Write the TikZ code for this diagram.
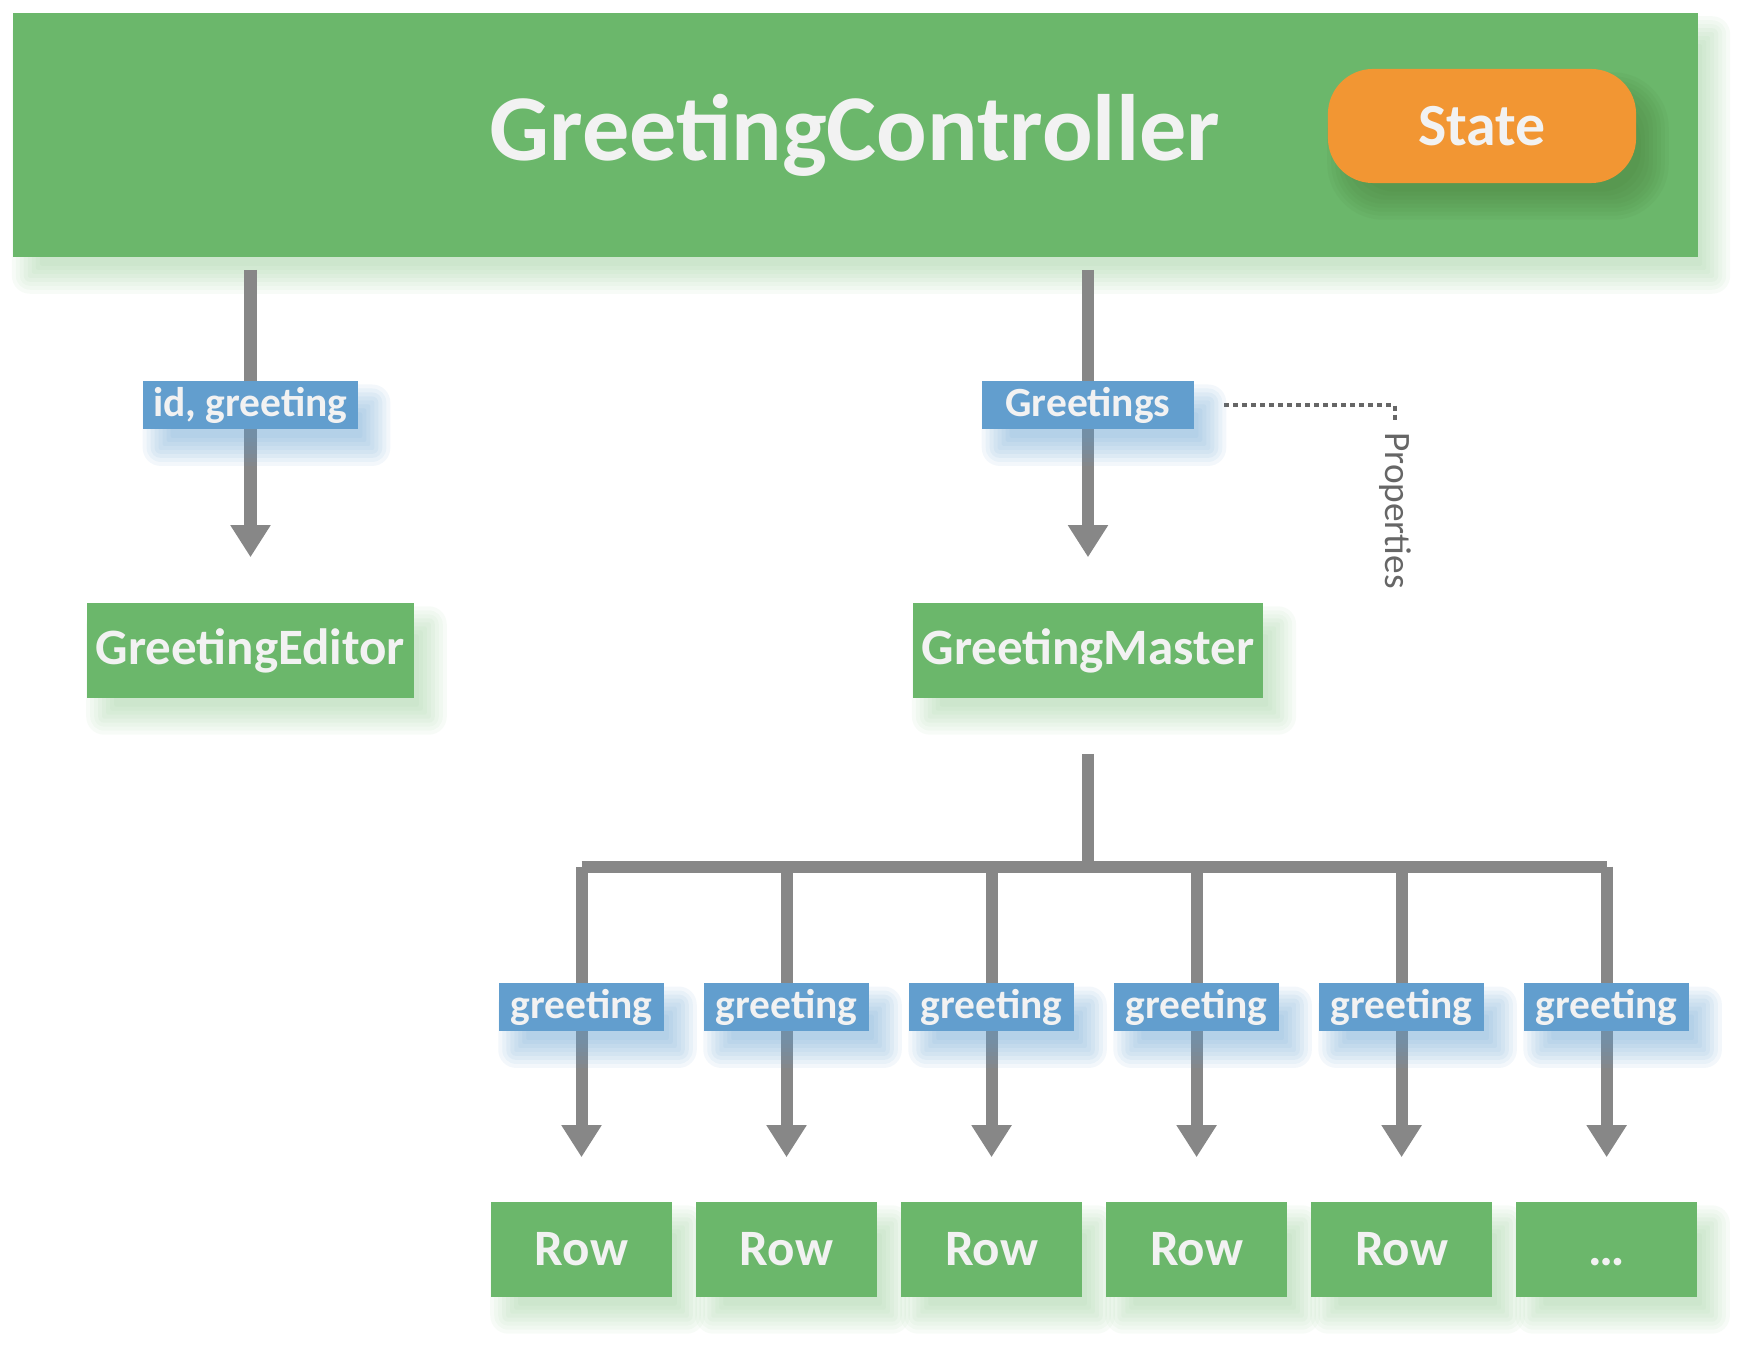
\documentclass[tikz,border=0pt]{standalone}
\usepackage{fontspec}
\setmainfont{Carlito}
\usetikzlibrary{arrows.meta,positioning,calc}
\usepackage{xcolor}
\definecolor{leaf}{HTML}{6BB76B}
\definecolor{amber}{HTML}{F29633}
\definecolor{sky}{HTML}{629ECE}
\definecolor{wire}{HTML}{878787}
\definecolor{chalk}{HTML}{F2F2F2}
\definecolor{note}{HTML}{666666}
\definecolor{pillshade}{HTML}{3F6B2A}
\pgfdeclarelayer{shadows}
\pgfdeclarelayer{wires}
\pgfdeclarelayer{glow}
\pgfsetlayers{shadows,wires,glow,main}
% soft shadow below/right of a node: node, colour, opacity per layer, corner (px)
\newcommand\castshade[4]{%
  \foreach \s in {-12,-8,...,16}{%
    \pgfmathsetmacro\rr{(max(\s,0)+#4)*0.2845}%
    \fill[#2, opacity=#3, rounded corners=\rr pt]
      ($(#1.south west)+({16-(\s)},{20+(\s)})$) rectangle ($(#1.north east)+({16+(\s)},{20-(\s)})$);
  }%
}
\tikzset{
  box/.style={fill=leaf, text=chalk, font=\bfseries\fontsize{14.5}{17}\selectfont, minimum height=0.95cm, inner xsep=0.09cm},
  rowbox/.style={box, minimum width=1.81cm},
  tag/.style={fill=sky, text=chalk, font=\bfseries\fontsize{11.8}{14}\selectfont, minimum height=0.48cm, inner xsep=0.1cm, inner ysep=0pt},
  rowtag/.style={tag, minimum width=1.65cm},
  pill/.style={fill=amber, text=chalk, rounded corners=0.45cm, minimum width=3.08cm, minimum height=1.14cm, font=\bfseries\fontsize{17}{20}\selectfont},
  arrow/.style={-{Triangle[width=0.38cm,length=0.32cm]}, line width=0.12cm, draw=wire},
  wireline/.style={line width=0.12cm, draw=wire},
  dotline/.style={draw=note, line width=0.04cm, dash pattern=on 0.05cm off 0.04cm},
  notetext/.style={text=note, font=\fontsize{10.6}{12}\selectfont}
}
\begin{document}
\begin{tikzpicture}[x=0.01cm, y=-0.01cm]
  \useasboundingbox (0,0) rectangle (1757,1358);
  \begin{pgfonlayer}{wires}
    \node[box, minimum width=16.84cm, minimum height=2.44cm, font=\bfseries\fontsize{26.8}{31}\selectfont] (ctrl) at (855,135) {GreetingController};
  \end{pgfonlayer}
  \node[pill] (state) at (1482,126) {State};
  \node[box, minimum width=3.25cm] (editor) at (250.5,650.5) {GreetingEditor};
  \node[box, minimum width=3.46cm] (master) at (1088,650.5) {GreetingMaster};
  % rows
  \node[rowbox] (row1) at (581.5,1249.5) {Row};
  \node[rowbox, right=0.225cm of row1] (row2) {Row};
  \node[rowbox, right=0.225cm of row2] (row3) {Row};
  \node[rowbox, right=0.225cm of row3] (row4) {Row};
  \node[rowbox, right=0.225cm of row4] (row5) {Row};
  \node[rowbox, right=0.225cm of row5] (row6) {\vphantom{R}…};
  \coordinate (hub) at ($(master.south)+(0,168)$);
  % connectors
  \begin{pgfonlayer}{wires}
    \draw[arrow, shorten <=0.12cm, shorten >=0.45cm] (editor.north |- ctrl.south) -- (editor.north);
    \draw[arrow, shorten <=0.12cm, shorten >=0.45cm] (master.north |- ctrl.south) -- (master.north);
    \draw[wireline, shorten <=0.55cm] (master.south) -- (hub);
    \draw[wireline] (row1.north |- hub) -- (row6.north |- hub);
    \draw[arrow, shorten >=0.44cm] (row1.north |- hub) -- (row1.north);
    \draw[arrow, shorten >=0.44cm] (row2.north |- hub) -- (row2.north);
    \draw[arrow, shorten >=0.44cm] (row3.north |- hub) -- (row3.north);
    \draw[arrow, shorten >=0.44cm] (row4.north |- hub) -- (row4.north);
    \draw[arrow, shorten >=0.44cm] (row5.north |- hub) -- (row5.north);
    \draw[arrow, shorten >=0.44cm] (row6.north |- hub) -- (row6.north);
  \end{pgfonlayer}
  % labels
  \node[tag] (tagedit) at ($(editor.north |- ctrl.south)!0.428!(editor.north)$) {id, greeting};
  \node[tag, minimum width=2.11cm] (tagmaster) at ($(master.north |- ctrl.south)!0.428!(master.north)$) {Greetings};
  \node[rowtag] (tag1) at ($(row1.north |- hub)!0.42!(row1.north)$) {greeting};
  \node[rowtag] (tag2) at ($(row2.north |- hub)!0.42!(row2.north)$) {greeting};
  \node[rowtag] (tag3) at ($(row3.north |- hub)!0.42!(row3.north)$) {greeting};
  \node[rowtag] (tag4) at ($(row4.north |- hub)!0.42!(row4.north)$) {greeting};
  \node[rowtag] (tag5) at ($(row5.north |- hub)!0.42!(row5.north)$) {greeting};
  \node[rowtag] (tag6) at ($(row6.north |- hub)!0.42!(row6.north)$) {greeting};
  \node[notetext, rotate=-90, anchor=west] (props) at (1395,420) {Properties};
  \begin{pgfonlayer}{wires}
    \draw[dotline] ([xshift=0.3cm]tagmaster.east) -| (props.west);
  \end{pgfonlayer}
  % shadows
  \begin{pgfonlayer}{shadows}
    \foreach \n in {ctrl,editor,master,row1,row2,row3,row4,row5,row6} {\castshade{\n}{leaf}{0.05}{2}}
  \end{pgfonlayer}
  \begin{pgfonlayer}{glow}
    \castshade{state}{pillshade}{0.055}{40}
    \foreach \n in {tagedit,tagmaster,tag1,tag2,tag3,tag4,tag5,tag6} {\castshade{\n}{sky}{0.08}{2}}
  \end{pgfonlayer}
\end{tikzpicture}
\end{document}
